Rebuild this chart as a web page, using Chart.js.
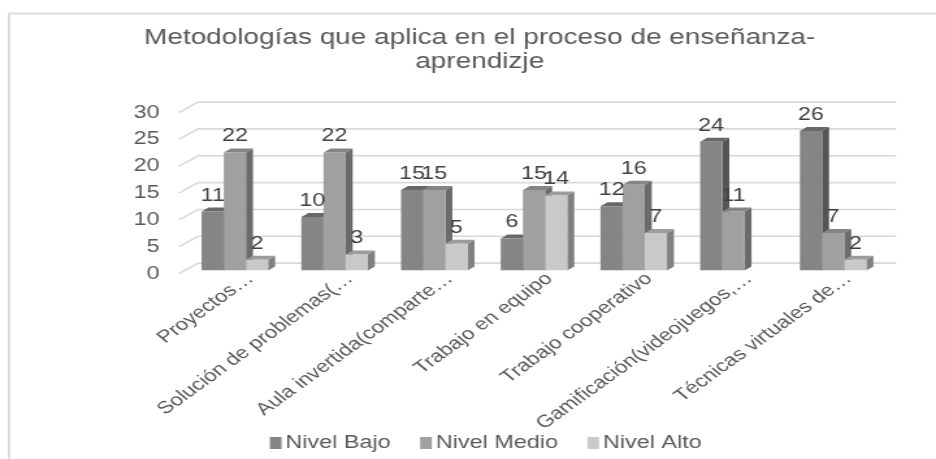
<!DOCTYPE html>
<html><head><meta charset="utf-8">
<style>html,body{margin:0;padding:0;background:#fff;overflow:hidden;width:936px;height:459px}
canvas{display:block;transform-origin:0 0;transform:scaleX(1.3);filter:blur(0.4px)}</style>
<script src="https://cdn.jsdelivr.net/npm/chart.js@4"></script>
</head><body><canvas id="c" width="720" height="459"></canvas>
<script>
const categories = ["Proyectos…","Solución de problemas(…","Aula invertida(comparte…","Trabajo en equipo","Trabajo cooperativo","Gamificación(videojuegos,…","Técnicas virtuales de…"];
const nivelBajo = [11,10,15,6,12,24,26];
const nivelMedio = [22,22,15,15,16,11,7];
const nivelAlto = [2,3,5,14,7,null,2];
const yTicks = [0,5,10,15,20,25,30];
const seriesNames = ["Nivel Bajo","Nivel Medio","Nivel Alto"];
const frontColors = ["#858585","#a0a0a0","#c9c9c9"];
const topColors = ["#686868","#858585","#9c9c9c"];
const sideColors = ["#555555","#6b6b6b","#808080"];

const S = 1.3, TXT = "#595959", FF = "'Liberation Sans', Arial, sans-serif";
const barDX = 6/S, barDY = -3, depthX = 7/S, depthY = -4, wallX = 19/S, wallY = -10.5;
const legendShift = 6.2;

const plugin3d = {
  id:"plugin3d",
  afterLayout(chart){
    const lg = chart.legend;
    lg.left += legendShift; lg.right += legendShift;
    lg.legendHitBoxes.forEach(h=>{h.left += legendShift;});
  },
  beforeDraw(chart){
    const c = chart.ctx;
    c.save();
    c.strokeStyle="#dcdcdc"; c.lineWidth=2;
    c.beginPath(); c.moveTo(720,13.5); c.lineTo(9/S,13.5); c.lineTo(9/S,459); c.stroke();
    c.restore();
    const {left,right} = chart.chartArea, y = chart.scales.y;
    c.save();
    c.strokeStyle="#d9d9d9"; c.lineWidth=1.6;
    yTicks.forEach(v=>{
      const p = y.getPixelForValue(v);
      c.beginPath(); c.moveTo(left,p); c.lineTo(left+wallX,p+wallY); c.lineTo(right+wallX,p+wallY); c.stroke();
    });
    c.restore();
  },
  beforeDatasetsDraw(chart){
    const c = chart.ctx;
    c.save();
    c.translate(barDX,barDY);
    categories.forEach((_,i)=>{
      chart.data.datasets.forEach((ds,d)=>{
        if(ds.data[i]==null) return;
        const b = chart.getDatasetMeta(d).data[i];
        const l=b.x-b.width/2, r=b.x+b.width/2, t=b.y, base=b.base;
        c.fillStyle=sideColors[d];
        c.beginPath(); c.moveTo(r,t); c.lineTo(r+depthX,t+depthY); c.lineTo(r+depthX,base+depthY); c.lineTo(r,base); c.closePath(); c.fill();
        c.fillStyle=topColors[d];
        c.beginPath(); c.moveTo(l,t); c.lineTo(l+depthX,t+depthY); c.lineTo(r+depthX,t+depthY); c.lineTo(r,t); c.closePath(); c.fill();
      });
    });
  },
  afterDatasetsDraw(chart){
    const c = chart.ctx;
    c.restore();
    c.save();
    c.translate(barDX,barDY);
    c.fillStyle="#404040"; c.font="18px "+FF; c.textAlign="center"; c.textBaseline="middle";
    chart.data.datasets.forEach((ds,d)=>{
      chart.getDatasetMeta(d).data.forEach((b,i)=>{
        if(ds.data[i]==null) return;
        c.fillText(String(ds.data[i]), b.x, b.y-16);
      });
    });
    c.restore();
  },
  afterDraw(chart){
    const c = chart.ctx;
    c.save();
    chart.legend.legendHitBoxes.forEach((h,i)=>{
      c.fillStyle = frontColors[i];
      c.fillRect(h.left-3, h.top+h.height/2-6, 9, 12);
    });
    c.restore();
  }
};

new Chart(document.getElementById("c"),{
  type:"bar",
  data:{labels:categories,datasets:[
    {label:seriesNames[0],data:nivelBajo,backgroundColor:frontColors[0]},
    {label:seriesNames[1],data:nivelMedio,backgroundColor:frontColors[1]},
    {label:seriesNames[2],data:nivelAlto,backgroundColor:frontColors[2]}
  ]},
  options:{
    responsive:false,animation:false,
    datasets:{bar:{categoryPercentage:0.667,barPercentage:1,borderWidth:0}},
    layout:{padding:{left:63.4,right:45.4,top:0,bottom:-3}},
    plugins:{
      title:{display:true,text:["Metodologías que aplica en el proceso de enseñanza-","aprendizje"],color:TXT,font:{family:FF,size:21.5,weight:"normal",lineHeight:1.116},padding:{top:26,bottom:38.6}},
      legend:{position:"bottom",labels:{color:TXT,font:{family:FF,size:18},boxWidth:0,boxHeight:12,padding:25.6}},
      tooltip:{enabled:false}
    },
    scales:{
      x:{grid:{display:false},border:{display:false},
        afterFit(s){s.height=134.8; s._computeLabelArea=()=>undefined;},
        ticks:{color:TXT,font:{family:FF,size:17.3},autoSkip:false,minRotation:43,maxRotation:43,labelOffset:16.5,padding:-13}},
      y:{min:0,max:30,grid:{display:false,drawTicks:false},border:{display:false},
        afterFit(s){s.width=74.3;},
        afterBuildTicks(s){s.ticks=yTicks.map(v=>({value:v}));},
        ticks:{color:TXT,font:{family:FF,size:18},padding:15}}
    }
  },
  plugins:[plugin3d]
});
</script></body></html>
